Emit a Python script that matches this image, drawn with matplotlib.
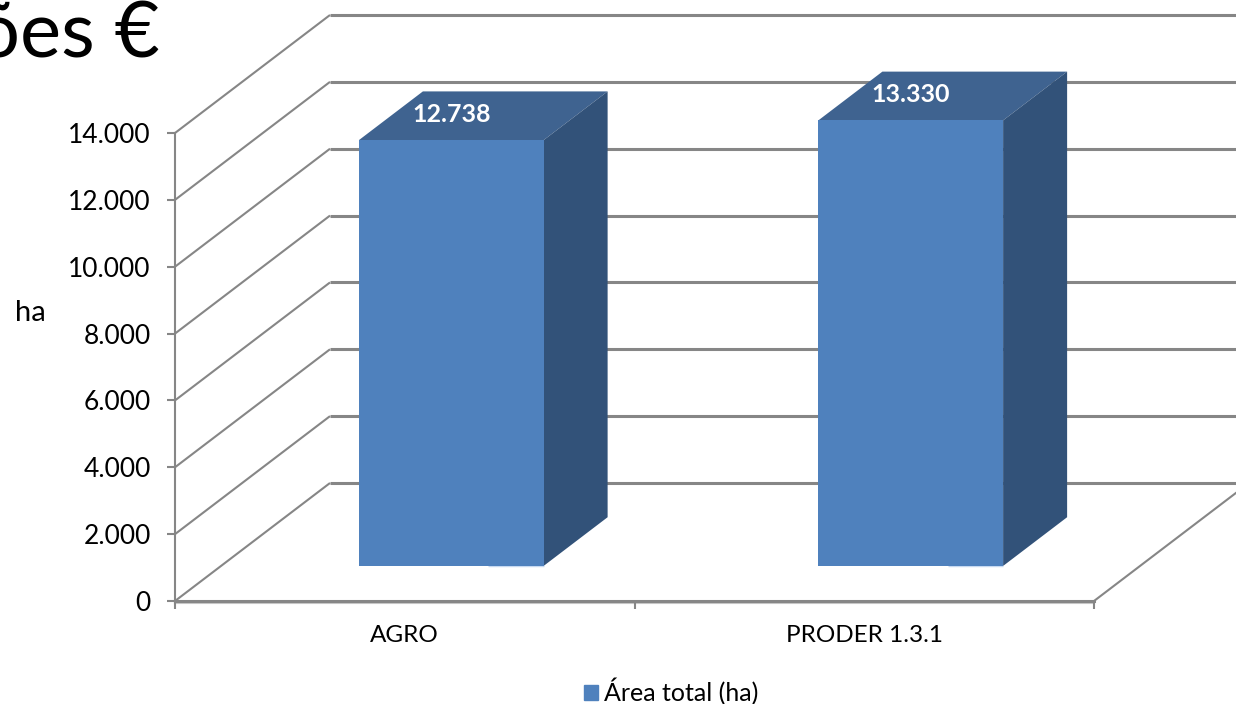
import matplotlib
matplotlib.use('Agg')
import matplotlib.pyplot as plt
from matplotlib.patches import Patch

categories = ['AGRO', 'PRODER 1.3.1']
area_ha = [12738, 13330]
value_labels = ['12.738', '13.330']
y_ticks = [0, 2000, 4000, 6000, 8000, 10000, 12000, 14000]
y_tick_labels = ['0', '2.000', '4.000', '6.000', '8.000', '10.000', '12.000', '14.000']

FRONT = '#4F81BD'
TOP = '#3F6390'
SIDE = '#325279'
GRID = '#868686'

plt.rcParams['font.family'] = ['Lato', 'DejaVu Sans']

W, H = 1236, 704
fig = plt.figure(figsize=(W / 100, H / 100), dpi=100)
# plot area in pixels: x 175..1094, y 601..133
ax = fig.add_axes([175 / W, (H - 601) / H, 919 / W, 468 / H])
ax.set_xlim(0, 2)
ax.set_ylim(0, 14000)

# fake 3d: depth 1 is the back wall, 155 px right and 118 px up
dx_depth = 155 / 459.5
dy_depth = 118 / 468 * 14000


def proj(x, y, d):
    return x + d * dx_depth, y + d * dy_depth


def line3(p, q, **kw):
    a = proj(*p)
    b = proj(*q)
    ax.plot([a[0], b[0]], [a[1], b[1]], color=GRID, clip_on=False,
            solid_capstyle='butt', **kw)


# walls
for v in y_ticks:
    line3((0, v, 0), (0, v, 1), lw=1.5, zorder=1)
    line3((0, v, 1), (2, v, 1), lw=2.2, zorder=1)
line3((2, 0, 0), (2, 0, 1), lw=1.5, zorder=1)

# bars
d0, d1 = 0.297, 0.71
bar_w = 0.402
for i, val in enumerate(area_ha):
    cx = i + 0.501
    x0, x1 = cx - bar_w / 2, cx + bar_w / 2
    fx0, base = proj(x0, 0, d0)
    ax.bar(fx0 + bar_w / 2, val, width=bar_w, bottom=base, color=FRONT, zorder=4,
           clip_on=False)
    top = [proj(x0, val, d0), proj(x1, val, d0), proj(x1, val, d1), proj(x0, val, d1)]
    side = [proj(x1, 0, d0), proj(x1, 0, d1), proj(x1, val, d1), proj(x1, val, d0)]
    ax.fill(*zip(*top), color=TOP, lw=0, zorder=3, clip_on=False)
    ax.fill(*zip(*side), color=SIDE, lw=0, zorder=3, clip_on=False)
    # pale sliver under the right part of the front face
    ax.plot([fx0 + bar_w * 0.7, fx0 + bar_w], [base, base], color='#C6D9F1', lw=1,
            zorder=3, clip_on=False, solid_capstyle='butt')
    ax.annotate(value_labels[i], (fx0 + bar_w / 2, base + val), xytext=(0, 18.7),
                textcoords='offset points', ha='center', va='center',
                color='white', fontsize=18, fontweight='bold', zorder=5,
                annotation_clip=False)

# axes
for s in ['top', 'right']:
    ax.spines[s].set_visible(False)
ax.spines['left'].set_color(GRID)
ax.spines['left'].set_linewidth(1.5)
ax.spines['bottom'].set_color(GRID)
ax.spines['bottom'].set_linewidth(2.2)
ax.axhline(-60, color='#C8C8C8', lw=1.5, clip_on=False, zorder=1)
ax.set_yticks(y_ticks)
ax.set_yticklabels(y_tick_labels)
ax.set_xticks([0, 1, 2])
ax.set_xticklabels([])
ax.set_xticks([0.5, 1.5], labels=categories, minor=True)
ax.tick_params(axis='y', length=6, width=1.5, color=GRID, labelsize=19, pad=11.5)
ax.tick_params(axis='x', which='major', length=6, width=1.5, color=GRID)
ax.tick_params(axis='x', which='minor', length=0, labelsize=17.5, pad=17)
ax.patch.set_alpha(0)

fig.text(30 / W, 1 - 313 / H, 'ha', fontsize=21, ha='center', va='center')
fig.text(160 / W, 1 - 57 / H, 'ões €', fontsize=56, ha='right', va='baseline')

fig.legend(handles=[Patch(color=FRONT, label='Área total (ha)')], loc='center',
           bbox_to_anchor=(671 / W, 1 - 692 / H), frameon=False, fontsize=18,
           handlelength=0.56, handleheight=0.56, handletextpad=0.25,
           borderpad=0, borderaxespad=0)

fig.savefig('out.png', dpi=100)
